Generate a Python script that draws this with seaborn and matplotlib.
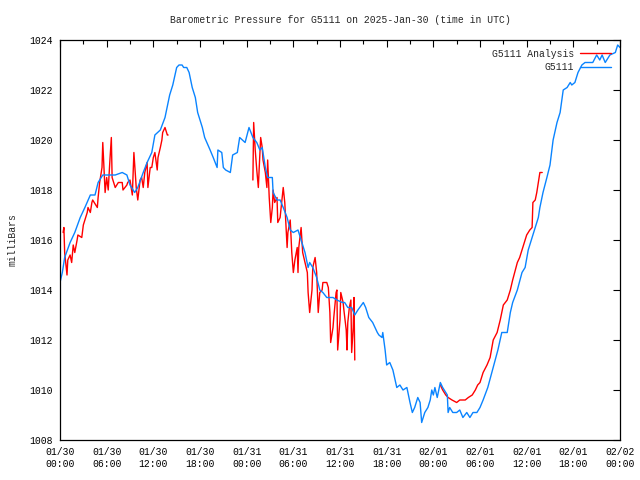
import pandas as pd
import numpy as np
import matplotlib
matplotlib.use('Agg')
import matplotlib.pyplot as plt
import matplotlib.dates as mdates
from matplotlib.lines import Line2D
import seaborn as sns

# --- data (hours after 2025-01-30 00:00 UTC, pressure in millibars) ---
station_hours = [
    0.0, 0.3, 0.6, 1.3, 1.9, 2.6, 3.2, 3.9, 4.5, 4.9, 5.5, 6.2, 7.1, 8.0, 8.6, 9.0,
    9.6, 10.0, 10.7, 11.2, 11.8, 12.2, 12.9, 13.5, 14.1, 14.5, 15.0, 15.3, 15.7, 15.9,
    16.3, 16.6, 17.0, 17.4, 17.7, 18.3, 18.6, 19.3, 19.7, 20.2, 20.3, 20.8, 21.0, 21.3,
    21.9, 22.2, 22.8, 23.1, 23.8, 24.3, 24.8, 25.3, 25.7, 26.0, 26.4, 26.7, 27.3, 27.4,
    27.9, 28.3, 28.7, 29.2, 29.6, 30.0, 30.6, 31.1, 31.5, 31.9, 32.1, 32.5, 33.0, 33.4,
    33.8, 34.3, 34.7, 35.1, 35.6, 36.3, 36.6, 37.0, 37.5, 37.9, 38.3, 39.0, 39.3, 39.7,
    40.2, 40.8, 41.0, 41.4, 41.5, 41.8, 42.0, 42.4, 42.8, 43.3, 43.7, 44.1, 44.6, 45.0,
    45.3, 45.6, 46.0, 46.3, 46.5, 46.9, 47.3, 47.6, 47.8, 48.0, 48.2, 48.5, 48.9, 49.2,
    49.8, 49.9, 50.1, 50.5, 51.0, 51.4, 51.8, 52.3, 52.7, 53.1, 53.6, 54.0, 54.4, 55.0,
    55.7, 56.3, 56.8, 57.5, 57.9, 58.2, 58.8, 59.4, 59.8, 60.2, 60.7, 61.1, 61.5, 61.7,
    62.1, 62.6, 63.0, 63.4, 63.9, 64.3, 64.7, 65.2, 65.6, 65.8, 66.2, 66.6, 67.1, 67.5,
    68.5, 69.0, 69.4, 69.7, 70.1, 70.7, 71.4, 71.7, 72.0,
]
station_mb = [
    1014.3, 1014.7, 1015.3, 1015.9, 1016.3, 1016.9, 1017.3, 1017.8, 1017.8, 1018.3,
    1018.6, 1018.6, 1018.6, 1018.7, 1018.6, 1018.2, 1017.9, 1018.1, 1018.7, 1019.1,
    1019.5, 1020.2, 1020.4, 1020.9, 1021.8, 1022.2, 1022.9, 1023.0, 1023.0, 1022.9,
    1022.9, 1022.7, 1022.1, 1021.7, 1021.1, 1020.5, 1020.1, 1019.6, 1019.3, 1018.9,
    1019.6, 1019.5, 1018.9, 1018.8, 1018.7, 1019.4, 1019.5, 1020.1, 1019.9, 1020.5,
    1020.1, 1019.9, 1019.6, 1019.7, 1018.9, 1018.5, 1018.5, 1017.9, 1017.6, 1017.6,
    1017.3, 1016.9, 1016.4, 1016.3, 1016.4, 1015.9, 1015.5, 1014.9, 1015.1, 1014.9,
    1014.5, 1014.0, 1013.9, 1013.7, 1013.7, 1013.7, 1013.6, 1013.5, 1013.5, 1013.3,
    1013.3, 1013.0, 1013.2, 1013.5, 1013.3, 1012.9, 1012.7, 1012.3, 1012.2, 1012.1,
    1012.3, 1011.6, 1011.0, 1011.1, 1010.8, 1010.1, 1010.2, 1010.0, 1010.1, 1009.5,
    1009.1, 1009.3, 1009.7, 1009.5, 1008.7, 1009.1, 1009.3, 1009.6, 1010.0, 1009.8,
    1010.1, 1009.7, 1010.3, 1010.1, 1009.8, 1009.1, 1009.3, 1009.1, 1009.1, 1009.2,
    1008.9, 1009.1, 1008.9, 1009.1, 1009.1, 1009.3, 1009.6, 1010.1, 1010.9, 1011.6,
    1012.3, 1012.3, 1013.1, 1013.5, 1014.0, 1014.7, 1014.9, 1015.6, 1016.1, 1016.5,
    1016.9, 1017.3, 1017.9, 1018.5, 1019.0, 1020.0, 1020.7, 1021.1, 1022.0, 1022.1,
    1022.3, 1022.2, 1022.3, 1022.7, 1023.0, 1023.1, 1023.1, 1023.4, 1023.2, 1023.4,
    1023.1, 1023.4, 1023.5, 1023.8, 1023.7,
]

# analysis series comes in three separate runs
analysis_hours_1 = [
    0.4, 0.5, 0.6, 0.9, 1.0, 1.3, 1.5, 1.7, 1.9, 2.2, 2.3, 2.8, 3.0, 3.5, 3.6, 3.9,
    4.1, 4.2, 4.8, 4.9, 5.1, 5.4, 5.5, 5.8, 6.0, 6.2, 6.4, 6.6, 6.7, 7.1, 7.5, 8.0,
    8.1, 8.6, 8.7, 9.0, 9.3, 9.5, 9.8, 10.0, 10.3, 10.5, 10.7, 10.9, 11.2, 11.3, 11.6,
    11.8, 12.0, 12.2, 12.5, 12.6, 12.9, 13.1, 13.2, 13.5, 13.8, 13.9,
]
analysis_mb_1 = [
    1016.3, 1016.5, 1015.5, 1014.6, 1015.2, 1015.4, 1015.1, 1015.8, 1015.5, 1016.0,
    1016.2, 1016.1, 1016.6, 1017.1, 1017.3, 1017.1, 1017.5, 1017.6, 1017.3, 1017.7,
    1018.3, 1018.9, 1019.9, 1017.9, 1018.5, 1018.0, 1019.1, 1020.1, 1018.5, 1018.1,
    1018.3, 1018.3, 1018.0, 1018.2, 1018.3, 1018.4, 1017.8, 1019.5, 1018.1, 1017.6,
    1018.4, 1018.5, 1018.1, 1018.7, 1019.1, 1018.1, 1018.9, 1018.9, 1019.3, 1019.5,
    1018.8, 1019.3, 1019.7, 1020.0, 1020.3, 1020.5, 1020.2, 1020.2,
]
analysis_hours_2 = [
    24.8, 24.9, 25.1, 25.3, 25.5, 25.6, 25.8, 26.0, 26.1, 26.4, 26.6, 26.7, 26.9, 27.1,
    27.3, 27.4, 27.6, 27.9, 28.0, 28.3, 28.5, 28.7, 28.9, 29.2, 29.3, 29.6, 29.8, 30.0,
    30.2, 30.5, 30.6, 30.7, 31.0, 31.1, 31.2, 31.5, 31.8, 31.9, 32.1, 32.4, 32.5, 32.8,
    33.0, 33.2, 33.4, 33.7, 33.8, 34.3, 34.5, 34.7, 34.8, 35.1, 35.2, 35.5, 35.6, 35.7,
    36.0, 36.1, 36.4, 36.5, 36.8, 36.9, 37.0, 37.2, 37.4, 37.5, 37.7, 37.8, 37.9,
]
analysis_mb_2 = [
    1018.4, 1020.7, 1019.6, 1018.8, 1018.1, 1018.8, 1020.1, 1019.7, 1019.2, 1018.7,
    1018.1, 1019.2, 1017.7, 1016.7, 1017.3, 1018.0, 1017.5, 1017.7, 1016.7, 1016.9,
    1017.5, 1018.1, 1017.5, 1015.7, 1016.3, 1016.8, 1015.5, 1014.7, 1015.2, 1015.7,
    1014.7, 1015.7, 1016.5, 1016.0, 1015.5, 1015.1, 1014.7, 1013.9, 1013.1, 1014.0,
    1014.9, 1015.3, 1014.7, 1013.1, 1013.9, 1014.0, 1014.3, 1014.3, 1014.1, 1013.1,
    1011.9, 1012.5, 1012.9, 1013.9, 1014.0, 1011.6, 1012.8, 1013.9, 1013.5, 1013.2,
    1012.4, 1011.6, 1012.7, 1013.3, 1013.6, 1011.5, 1012.5, 1013.7, 1011.2,
]
analysis_hours_3 = [
    48.9, 49.2, 49.6, 49.9, 50.4, 51.0, 51.4, 52.1, 52.5, 53.0, 53.4, 53.7, 54.0, 54.4,
    54.9, 55.3, 55.7, 56.2, 56.6, 57.0, 57.5, 57.9, 58.2, 58.8, 59.1, 59.5, 60.0, 60.4,
    60.7, 60.8, 61.1, 61.3, 61.5, 61.7, 62.0,
]
analysis_mb_3 = [
    1010.2, 1010.0, 1009.8, 1009.7, 1009.6, 1009.5, 1009.6, 1009.6, 1009.7, 1009.8,
    1010.0, 1010.2, 1010.3, 1010.7, 1011.0, 1011.3, 1012.0, 1012.3, 1012.8, 1013.4,
    1013.6, 1014.0, 1014.4, 1015.1, 1015.3, 1015.7, 1016.2, 1016.4, 1016.5, 1017.5,
    1017.6, 1017.9, 1018.3, 1018.7, 1018.7,
]

START = pd.Timestamp('2025-01-30 00:00')
RED = '#ff0000'
BLUE = '#0a84ff'

station = pd.DataFrame({'time': START + pd.to_timedelta(station_hours, unit='h'),
                        'mb': station_mb})
parts = []
for i, (h, p) in enumerate([(analysis_hours_1, analysis_mb_1),
                            (analysis_hours_2, analysis_mb_2),
                            (analysis_hours_3, analysis_mb_3)]):
    parts.append(pd.DataFrame({'time': START + pd.to_timedelta(h, unit='h'),
                               'mb': p, 'run': i}))
analysis = pd.concat(parts, ignore_index=True)

sns.set_style('white')
plt.rcParams['font.family'] = ['Liberation Mono', 'DejaVu Sans Mono']
plt.rcParams['font.size'] = 7

fig = plt.figure(figsize=(6.4, 4.8), dpi=100)
ax = fig.add_axes([60 / 640, 40 / 480, 560 / 640, 400 / 480])

sns.lineplot(data=analysis, x='time', y='mb', units='run', estimator=None,
             color=RED, linewidth=1.0, ax=ax)
sns.lineplot(data=station, x='time', y='mb', color=BLUE, linewidth=1.0, ax=ax)

ax.set_xlim(START, START + pd.Timedelta(hours=72))
ax.set_ylim(1008, 1024)
ax.set_yticks(np.arange(1008, 1025, 2))
ax.xaxis.set_major_locator(mdates.HourLocator(byhour=[0, 6, 12, 18]))
ax.xaxis.set_minor_locator(mdates.HourLocator(byhour=range(0, 24, 3)))
ax.xaxis.set_major_formatter(mdates.DateFormatter('%m/%d\n%H:%M'))

ax.tick_params(which='both', direction='in', top=True, right=True,
               color='black', labelcolor='black', labelsize=7)
ax.tick_params(which='major', length=5, width=0.8, pad=5)
ax.tick_params(which='minor', length=3, width=0.8)
for s in ax.spines.values():
    s.set_visible(True)
    s.set_color('black')
    s.set_linewidth(0.9)

ax.set_xlabel('')
ax.set_ylabel('milliBars', fontsize=7, labelpad=9)
ax.set_title('Barometric Pressure for G5111 on 2025-Jan-30 (time in UTC)',
             fontsize=7, pad=12)

handles = [Line2D([], [], color=RED, linewidth=1.0),
           Line2D([], [], color=BLUE, linewidth=1.0)]
ax.legend(handles, ['G5111 Analysis', 'G5111'], loc='upper right',
          frameon=False, markerfirst=False, fontsize=7, handlelength=3.2,
          handletextpad=0.6, labelspacing=0.35, borderpad=0.4,
          borderaxespad=0.5)

fig.savefig('out.png', dpi=100, facecolor='white')
